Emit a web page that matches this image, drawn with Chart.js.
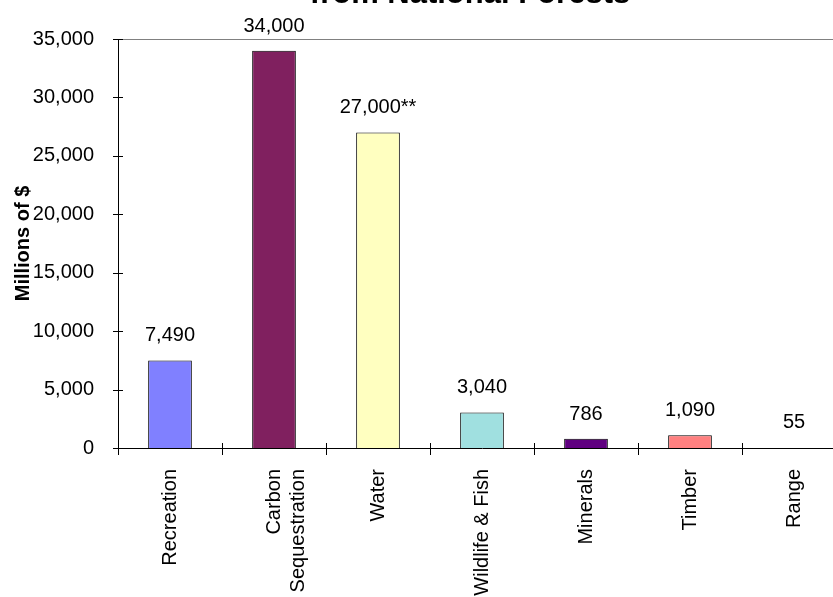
<!DOCTYPE html>
<html>
<head>
<meta charset="utf-8">
<script src="https://cdn.jsdelivr.net/npm/chart.js@4.4.1/dist/chart.umd.min.js"></script>
<style>
    html, body { margin: 0; padding: 0; background: #fff; overflow: hidden; }
    #wrap { width: 833px; height: 597px; overflow: hidden; position: relative; }
    #chart { position: absolute; left: 0; top: 0; }
</style>
</head>
<body>
<div id="wrap"><canvas id="chart" width="860" height="597"></canvas></div>
<script>
const categories = ['Recreation', ['Carbon', 'Sequestration'], 'Water', 'Wildlife & Fish', 'Minerals', 'Timber', 'Range'];
const values = [7490, 34000, 27000, 3040, 786, 1090, 55];
const valueLabels = ['7,490', '34,000', '27,000**', '3,040', '786', '1,090', '55'];
const barColors = ['#8080FF', '#80205F', '#FFFFC0', '#A0E0E0', '#600080', '#FF8080', '#FFFFFF'];
const yTicks = [0, 5000, 10000, 15000, 20000, 25000, 30000, 35000];
const titleText = 'from National Forests';
const yTitle = 'Millions of $';

const FONT = 'Liberation Sans, Arial, sans-serif';

// tick marks crossing the axes, top border, title and value labels
const extras = {
    id: 'extras',
    afterDraw(chart) {
        const ctx = chart.ctx;
        const area = chart.chartArea;
        const x = chart.scales.x;
        const y = chart.scales.y;
        ctx.save();

        ctx.strokeStyle = '#808080';
        ctx.lineWidth = 1;
        ctx.beginPath();
        ctx.moveTo(area.left, area.top + 0.5);
        ctx.lineTo(area.right, area.top + 0.5);
        ctx.stroke();

        ctx.strokeStyle = '#000';
        ctx.beginPath();
        yTicks.forEach(v => {
            const py = Math.round(y.getPixelForValue(v)) + 0.5;
            ctx.moveTo(area.left - 5, py);
            ctx.lineTo(area.left + 5, py);
        });
        for (let i = 0; i <= categories.length; i++) {
            const px = Math.round(x.getPixelForValue(i - 0.5)) + 0.5;
            ctx.moveTo(px, area.bottom - 5);
            ctx.lineTo(px, area.bottom + 7);
        }
        ctx.stroke();

        ctx.fillStyle = '#000';
        ctx.font = '20px ' + FONT;
        ctx.textAlign = 'center';
        ctx.textBaseline = 'alphabetic';
        chart.getDatasetMeta(0).data.forEach((bar, i) => {
            ctx.fillText(valueLabels[i], bar.x, bar.y - 19);
        });

        ctx.font = 'bold 31px ' + FONT;
        ctx.fillText(titleText, 470, 3);
        ctx.restore();
    }
};

new Chart(document.getElementById('chart'), {
    type: 'bar',
    data: {
        labels: categories,
        datasets: [{
            data: values,
            backgroundColor: barColors,
            borderColor: '#000',
            borderWidth: [1, 1, 1, 1, 1, 1, 0],
            categoryPercentage: 1,
            barPercentage: 0.42
        }]
    },
    options: {
        responsive: false,
        animation: false,
        devicePixelRatio: 1,
        layout: { padding: { top: 39, right: 14, left: 0, bottom: 0 } },
        plugins: {
            legend: { display: false },
            tooltip: { enabled: false },
            title: { display: false }
        },
        scales: {
            x: {
                grid: { display: false },
                border: { display: true, color: '#000', width: 1 },
                ticks: {
                    autoSkip: false,
                    maxRotation: 90,
                    minRotation: 90,
                    padding: 13,
                    color: '#000',
                    font: { family: FONT, size: 20 }
                },
                afterFit(scale) { scale.height = 149; }
            },
            y: {
                min: 0,
                max: 35000,
                afterBuildTicks(scale) { scale.ticks = yTicks.map(v => ({ value: v })); },
                grid: { display: false },
                border: { display: true, color: '#000', width: 1 },
                ticks: {
                    padding: 16,
                    color: '#000',
                    font: { family: FONT, size: 20 },
                    callback: v => v.toLocaleString('en-US')
                },
                title: {
                    display: true,
                    text: yTitle,
                    color: '#000',
                    font: { family: FONT, size: 20, weight: 'bold' },
                    padding: { top: 11, bottom: 0 }
                },
                afterFit(scale) { scale.width = 118; }
            }
        }
    },
    plugins: [extras]
});
</script>
</body>
</html>
